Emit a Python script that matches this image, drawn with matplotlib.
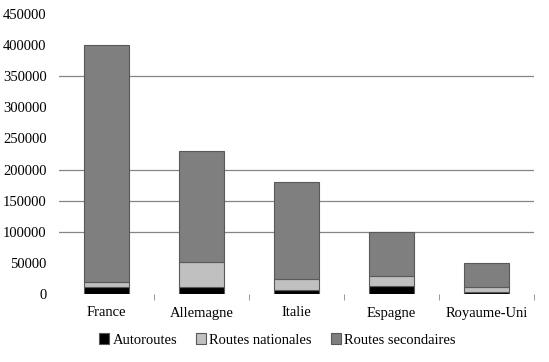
import numpy as np
import matplotlib.pyplot as plt

# Data (km of roads)
pays = ['France', 'Allemagne', 'Italie', 'Espagne', 'Royaume-Uni']
autoroutes = [11000, 12000, 6500, 13500, 3500]
routes_nationales = [9000, 40000, 18000, 16000, 7500]
routes_secondaires = [380000, 178000, 155500, 70000, 39000]

# gridlines visible in the reference
grid_values = [100000, 150000, 200000, 350000]

plt.rcParams['font.family'] = ['Liberation Serif', 'DejaVu Serif']

fig = plt.figure(figsize=(5.49, 3.62), dpi=100)
ax = fig.add_axes([59 / 549, 1 - 294 / 362, 475 / 549, 280 / 362])

x = np.arange(len(pays))
w = 0.465
a = np.array(autoroutes)
n = np.array(routes_nationales)
s = np.array(routes_secondaires)

for g in grid_values:
    ax.axhline(g, color='#868686', linewidth=0.9, zorder=0)

ax.bar(x, a, w, color='#000000', edgecolor='#595959', linewidth=0.8, label='Autoroutes', zorder=3)
ax.bar(x, n, w, bottom=a, color='#c0c0c0', edgecolor='#595959', linewidth=0.8,
       label='Routes nationales', zorder=3)
ax.bar(x, s, w, bottom=a + n, color='#7f7f7f', edgecolor='#595959', linewidth=0.8,
       label='Routes secondaires', zorder=3)

ax.set_xlim(-0.5, len(pays) - 0.5)
ax.set_ylim(0, 450000)
ax.set_yticks(np.arange(0, 450001, 50000))
ax.tick_params(axis='y', length=0, labelsize=10.5, pad=9)

ax.set_xticks(x)
ax.set_xticklabels(pays, fontsize=10.5)
ax.tick_params(axis='x', length=0, pad=9)
ax.set_xticks(np.arange(0.5, len(pays)), minor=True)
ax.tick_params(axis='x', which='minor', length=4, color='#868686', direction='out')

for side in ['left', 'right', 'top', 'bottom']:
    ax.spines[side].set_visible(False)

ax.legend(loc='center', bbox_to_anchor=(0.505, 1 - 340 / 362), bbox_transform=fig.transFigure,
          ncol=3, frameon=False, fontsize=10.5, handlelength=0.7, handleheight=0.7,
          handletextpad=0.2, columnspacing=1.3, borderaxespad=0)

fig.savefig('out.png', dpi=100)
